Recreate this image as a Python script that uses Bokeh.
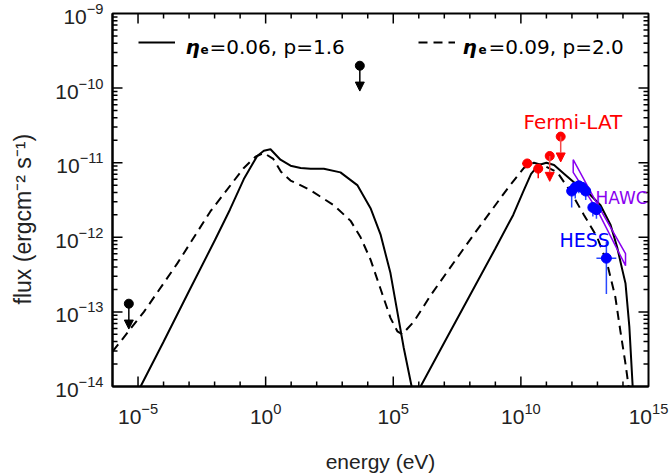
import numpy as np
from bokeh.plotting import figure
from bokeh.models import (Range1d, FixedTicker, LogTicker, Label, Arrow,
                          NormalHead, Legend, LegendItem, ColumnDataSource)
from bokeh.embed import file_html
from bokeh.resources import INLINE

# ---------------- data (log10 E [eV], log10 flux [erg cm^-2 s^-1]) ----------------
# eta_e = 0.06, p = 1.6 (solid): synchrotron and inverse-Compton parts
solid_sync_logE = [-5.0, -4.9, -4.0, -3.0, -1.99, -1.4, -0.855, -0.33, -0.07, 0.19, 0.58, 0.975,
                   1.37, 1.76, 2.28, 2.93, 3.59, 4.11, 4.50, 4.89, 5.16, 5.41, 5.72, 5.8]
solid_sync_logF = [-14.07, -14.0, -13.40, -12.72, -12.04, -11.63, -11.22, -10.91, -10.84, -10.82,
                   -10.96, -11.04, -11.07, -11.08, -11.08, -11.13, -11.30, -11.61, -11.96, -12.48,
                   -13.0, -13.48, -14.0, -14.15]
solid_ic_logE = [6.0, 6.07, 7.0, 8.0, 9.0, 9.7, 10.1, 10.4, 10.7, 11.0, 11.3, 11.7, 12.1, 12.6,
                 13.12, 13.51, 13.77, 13.97, 14.1, 14.25, 14.38, 14.45]
solid_ic_logF = [-14.05, -14.0, -13.41, -12.78, -12.15, -11.70, -11.38, -11.15, -11.03, -11.0,
                 -11.03, -11.15, -11.27, -11.39, -11.57, -11.83, -12.13, -12.43, -12.62, -13.2,
                 -14.0, -14.3]
# eta_e = 0.09, p = 2.0 (dashed): total spectrum
dashed_logE = [-6.0, -5.97, -4.77, -3.46, -2.16, -0.855, -0.4, -0.07, 0.3, 0.6, 0.975, 1.17, 1.76,
               2.67, 3.33, 3.72, 4.11, 4.50, 4.89, 5.16, 5.35, 5.81, 6.46, 7.18, 8.16, 9.47,
               10.12, 10.51, 10.90, 11.43, 11.95, 12.47, 12.99, 13.38, 13.7, 13.9, 14.1, 14.22,
               14.3]
dashed_logF = [-13.53, -13.52, -13.0, -12.35, -11.65, -11.07, -10.92, -10.87, -10.95, -11.12,
               -11.24, -11.27, -11.37, -11.57, -11.78, -12.0, -12.30, -12.69, -13.08, -13.26,
               -13.30, -13.13, -12.78, -12.43, -11.96, -11.35, -11.07, -11.0, -11.04, -11.13,
               -11.39, -11.70, -12.0, -12.35, -12.8, -13.26, -13.7, -14.0, -14.2]

# Fermi-LAT
fermi_logE = [10.25, 10.68]
fermi_logF = [-11.01, -11.08]
fermi_xerr = [0.2, 0.18]
fermi_yerr_lo = [0.04, 0.13]
fermi_yerr_hi = [0.04, 0.06]
fermi_ul_logE = [11.13, 11.56]
fermi_ul_logF = [-10.91, -10.65]

# HESS
hess_logE = [11.99, 12.13, 12.27, 12.40, 12.54, 12.82, 12.96, 13.35]
hess_logF = [-11.38, -11.33, -11.31, -11.33, -11.38, -11.60, -11.63, -12.28]
hess_yerr_lo = [0.22, 0.15, 0.10, 0.10, 0.12, 0.12, 0.12, 0.48]
hess_yerr_hi = [0.05, 0.04, 0.04, 0.04, 0.05, 0.05, 0.05, 0.22]
hess_xerr = [0.0, 0.0, 0.0, 0.0, 0.0, 0.0, 0.0, 0.39]

# HAWC butterfly outline
hawc_logE = [12.05, 13.0, 14.10, 14.10, 13.0, 12.05]
hawc_logF = [-10.96, -11.56, -12.22, -12.38, -11.64, -11.13]

# black upper limits
ul_logE = [-5.36, 3.69]
ul_logF = [-12.89, -9.70]

# axes: log10 limits and tick exponents
x_lim = [-6, 15]
y_lim = [-14, -9]
x_major = [-5, 0, 5, 10, 15]

# ---------------- helpers ----------------
def p10(a):
    return [10.0 ** v for v in a]

RED = "#FF0000"
BLUE = "#0000FF"
PURPLE = "#8A00F0"
AXF = "Liberation Sans"
TXF = "DejaVu Sans"

W, H = 669, 475
BL, BR, BT, BB = 112, 21, 13, 88
p = figure(width=W, height=H, x_axis_type="log", y_axis_type="log",
           x_range=Range1d(10.0 ** x_lim[0], 10.0 ** x_lim[1]),
           y_range=Range1d(10.0 ** y_lim[0], 10.0 ** y_lim[1]),
           output_backend="svg", toolbar_location=None,
           min_border_left=BL, min_border_right=BR, min_border_top=BT, min_border_bottom=BB)
p.grid.visible = False
p.outline_line_color = "black"
p.outline_line_width = 2
p.border_fill_color = "white"
p.background_fill_color = "white"

x_all = list(range(x_lim[0], x_lim[1] + 1))
bottom = p.below[0]
left = p.left[0]
bottom.ticker = FixedTicker(ticks=p10(x_major), minor_ticks=p10([v for v in x_all if v not in x_major]))
left.ticker = LogTicker(num_minor_ticks=10)

for ax in (bottom, left):
    ax.axis_line_width = 2
    ax.major_tick_in = 0
    ax.major_tick_out = 0
    ax.minor_tick_in = 0
    ax.minor_tick_out = 0
    ax.major_label_text_font = AXF
    ax.major_label_text_font_size = "21px"
    ax.major_label_text_color = "#222222"
    ax.axis_label_text_font = AXF
    ax.axis_label_text_font_size = "21px"
    ax.axis_label_text_font_style = "normal"
    ax.axis_label_text_color = "#222222"
bottom.major_label_standoff = 16
left.major_label_standoff = 9
bottom.axis_label = "energy (eV)"
bottom.axis_label_standoff = 23
left.axis_label = "flux (ergcm⁻² s⁻¹)" + "\u00a0" * 6
left.axis_label_text_font_size = "23px"
left.axis_label_standoff = 16

# ---------------- inward box ticks on all four sides (IDL style) ----------------
px_per_dec_x = (W - BL - BR) / (x_lim[1] - x_lim[0])
px_per_dec_y = (H - BT - BB) / (y_lim[1] - y_lim[0])
MAJ, MIN = 10, 5

xt_e = [e for e in x_all if x_lim[0] < e < x_lim[1]]
xt_len = [MAJ if e in x_major else MIN for e in xt_e]
yt_v, yt_len = [], []
for d in range(y_lim[0], y_lim[1]):
    for k in range(1, 10):
        v = d + np.log10(k)
        if y_lim[0] < v < y_lim[1]:
            yt_v.append(v)
            yt_len.append(MAJ if k == 1 else MIN)

tk = dict(line_color="black", line_width=1.5)
xs = p10(xt_e)
p.segment(xs, [10.0 ** y_lim[0]] * len(xs), xs,
          [10.0 ** (y_lim[0] + L / px_per_dec_y) for L in xt_len], **tk)
p.segment(xs, [10.0 ** y_lim[1]] * len(xs), xs,
          [10.0 ** (y_lim[1] - L / px_per_dec_y) for L in xt_len], **tk)
ys = p10(yt_v)
p.segment([10.0 ** x_lim[0]] * len(ys), ys,
          [10.0 ** (x_lim[0] + L / px_per_dec_x) for L in yt_len], ys, **tk)
p.segment([10.0 ** x_lim[1]] * len(ys), ys,
          [10.0 ** (x_lim[1] - L / px_per_dec_x) for L in yt_len], ys, **tk)

# ---------------- model curves ----------------
r_solid = p.line(p10(solid_sync_logE), p10(solid_sync_logF), line_color="black", line_width=2)
p.line(p10(solid_ic_logE), p10(solid_ic_logF), line_color="black", line_width=2)
r_dash = p.line(p10(dashed_logE), p10(dashed_logF), line_color="black", line_width=2,
                line_dash="9 6")

# ---------------- HAWC ----------------
p.patch(p10(hawc_logE), p10(hawc_logF), fill_color=None, line_color=PURPLE, line_width=1.5)

# ---------------- Fermi-LAT ----------------
fx = p10(fermi_logE)
fy = p10(fermi_logF)
p.segment(p10([e - d for e, d in zip(fermi_logE, fermi_xerr)]), fy,
          p10([e + d for e, d in zip(fermi_logE, fermi_xerr)]), fy, line_color=RED, line_width=1.5)
p.segment(fx, p10([f - d for f, d in zip(fermi_logF, fermi_yerr_lo)]),
          fx, p10([f + d for f, d in zip(fermi_logF, fermi_yerr_hi)]), line_color=RED, line_width=1.5)
p.scatter(fx, fy, size=9, color=RED)

ul_drop = 0.34  # arrow length in decades
fsrc = ColumnDataSource(dict(x=p10(fermi_ul_logE), y=p10(fermi_ul_logF),
                             y1=p10([v - ul_drop for v in fermi_ul_logF])))
p.add_layout(Arrow(source=fsrc, x_start="x", y_start="y", x_end="x", y_end="y1",
                   line_color="#F24A4A", line_width=1.5,
                   end=NormalHead(size=9, fill_color=RED, line_color=RED)))
p.scatter(fsrc.data["x"], fsrc.data["y"], size=9, color=RED)

# ---------------- HESS ----------------
hx = p10(hess_logE)
hy = p10(hess_logF)
p.segment(hx, p10([f - d for f, d in zip(hess_logF, hess_yerr_lo)]),
          hx, p10([f + d for f, d in zip(hess_logF, hess_yerr_hi)]), line_color="#2848FF", line_width=1.5)
p.segment(p10([e - d for e, d in zip(hess_logE, hess_xerr)]), hy,
          p10([e + d for e, d in zip(hess_logE, hess_xerr)]), hy, line_color="#2848FF", line_width=1.5)
p.scatter(hx, hy, size=10, color=BLUE)

# ---------------- black upper limits ----------------
usrc = ColumnDataSource(dict(x=p10(ul_logE), y=p10(ul_logF), y1=p10([v - ul_drop for v in ul_logF])))
p.add_layout(Arrow(source=usrc, x_start="x", y_start="y", x_end="x", y_end="y1",
                   line_color="black", line_width=1.5,
                   end=NormalHead(size=9, fill_color="black", line_color="black")))
p.scatter(usrc.data["x"], usrc.data["y"], size=9, color="black")

# ---------------- legend ----------------
FRAME_L, FRAME_B = BL, H - BB
def sx(X):
    return X - FRAME_L
def sy(Y):
    return FRAME_B - Y

for rend, X0 in ((r_solid, 138), (r_dash, 418)):
    leg = Legend(items=[LegendItem(label="", renderers=[rend])], location=(sx(X0), sy(53)),
                 padding=0, margin=0, spacing=0, glyph_width=37, glyph_height=20,
                 label_width=1, label_height=20, label_standoff=0,
                 border_line_alpha=0, background_fill_alpha=0, label_text_font_size="10px")
    p.add_layout(leg)

for Xeta, Xe, Xt, txt in ((185, 200, 209, "=0.06,  p=1.6"), (462, 478, 488, "=0.09,  p=2.0")):
    p.add_layout(Label(x=sx(Xeta), y=sy(47), x_units="screen", y_units="screen", text="η",
                       text_font=TXF, text_font_style="bold italic", text_font_size="20px",
                       text_color="black", text_baseline="alphabetic"))
    p.add_layout(Label(x=sx(Xe), y=sy(50), x_units="screen", y_units="screen", text="e",
                       text_font=TXF, text_font_style="bold", text_font_size="12px",
                       text_color="black", text_baseline="alphabetic"))
    p.add_layout(Label(x=sx(Xt), y=sy(47), x_units="screen", y_units="screen", text=txt,
                       text_font=TXF, text_font_size="20px", text_color="black",
                       text_baseline="alphabetic"))

# ---------------- instrument labels ----------------
p.add_layout(Label(x=sx(523), y=sy(122), x_units="screen", y_units="screen", text="Fermi-LAT",
                   text_font=TXF, text_font_size="20px", text_color=RED, text_baseline="alphabetic"))
p.add_layout(Label(x=sx(595), y=sy(198), x_units="screen", y_units="screen", text="HAWC",
                   text_font=TXF, text_font_size="17px", text_color=PURPLE, text_baseline="alphabetic"))
p.add_layout(Label(x=sx(559), y=sy(240), x_units="screen", y_units="screen", text="HESS",
                   text_font=TXF, text_font_size="19px", text_color=BLUE, text_baseline="alphabetic"))

open("out.html", "w").write(file_html(p, INLINE))
